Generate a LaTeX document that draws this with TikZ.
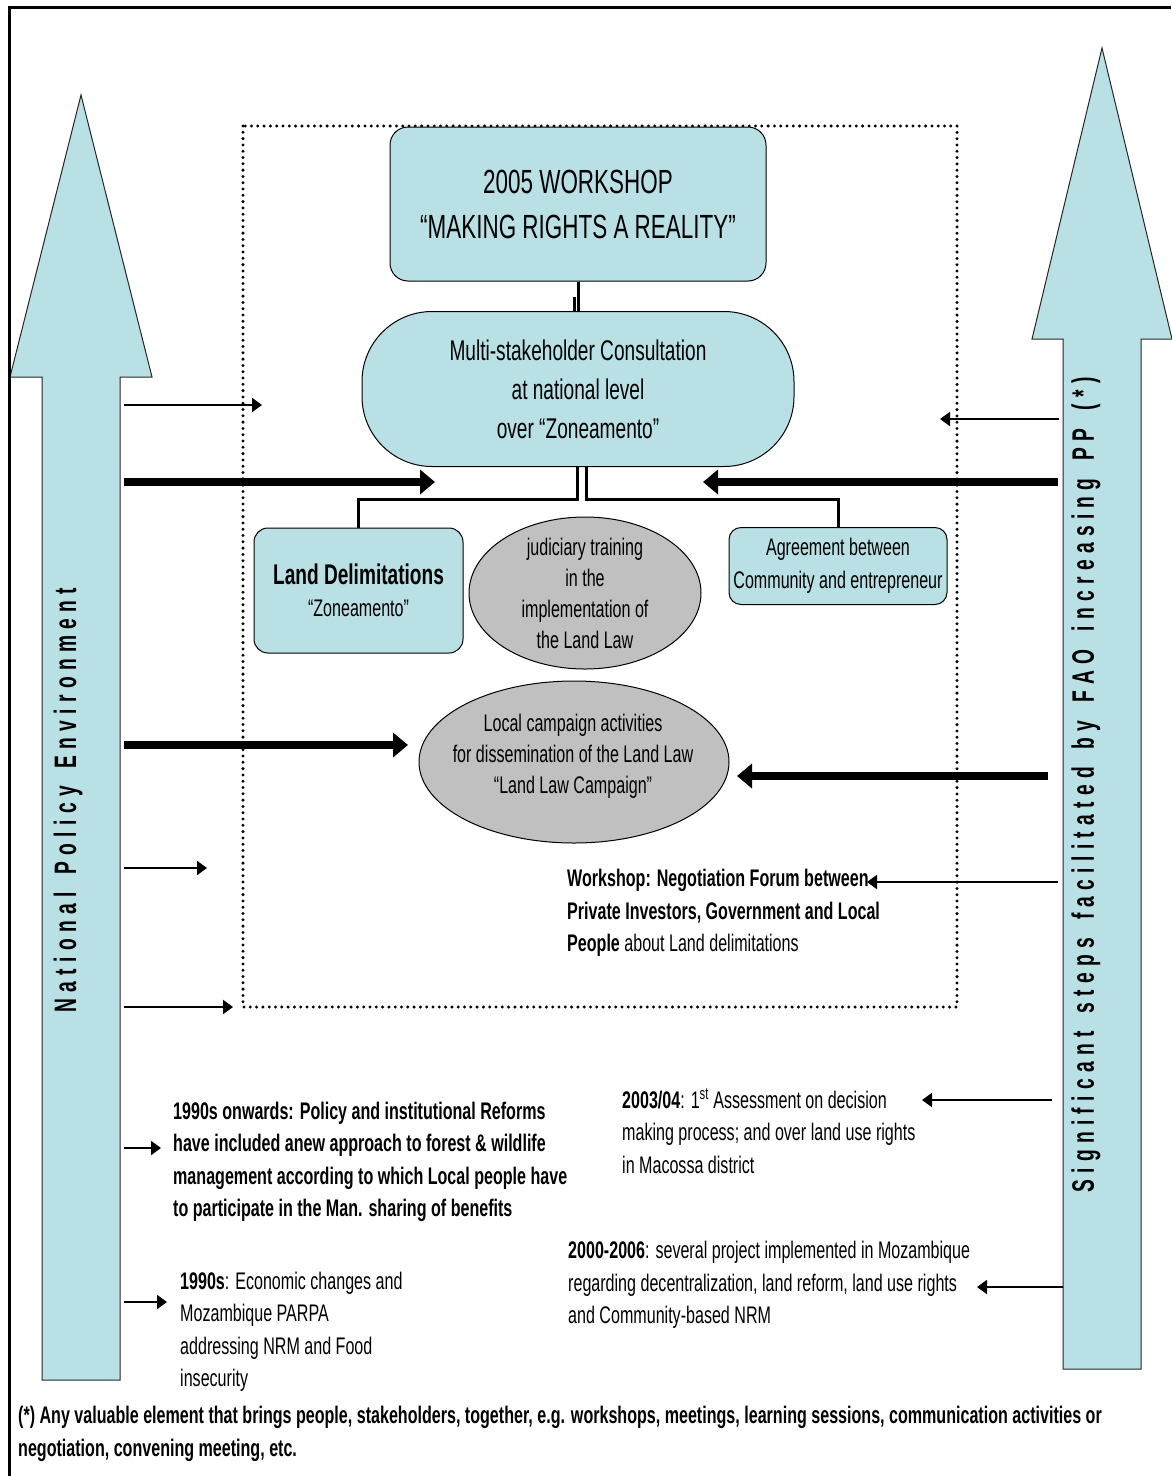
\documentclass[tikz,border=0pt]{standalone}
\usepackage{fontspec}
\setmainfont{Liberation Sans}[FakeStretch=0.67]
\newfontfamily\rotfont{Liberation Sans}[FakeStretch=0.62]
\usetikzlibrary{arrows.meta,shapes.geometric,calc}
\definecolor{paleblue}{RGB}{185,224,228}
\definecolor{ovalgray}{RGB}{192,192,192}
\newcommand\bodyfs{\fontsize{24}{32.5}\selectfont}
\newcommand\bigfs{\fontsize{28.5}{39}\selectfont}
\newcommand\titlefs{\fontsize{33.5}{45}\selectfont}
\newcommand\rotfs{\rotfont\fontsize{31}{36}\selectfont\bfseries}

\begin{document}
\begin{tikzpicture}[x=1pt,y=-1pt,
  bluebox/.style={draw=black, line width=1pt, fill=paleblue, align=center, inner sep=0pt},
  grayoval/.style={ellipse, draw=black, line width=1pt, fill=ovalgray, inner sep=0pt},
  ovaltext/.style={align=center, inner sep=0pt, font=\fontsize{24}{31}\selectfont},
  tree/.style={line width=3pt},
  thin arrow/.style={line width=2pt, -{Triangle[length=10pt,width=14pt]}},
  thick arrow/.style={line width=7.5pt, -{Triangle[length=15pt,width=24pt]}},
  note/.style={align=left, anchor=west, inner sep=0pt, font=\bodyfs},
  bigarrow/.style={draw=black!85, line width=1pt, fill=paleblue, line join=miter},
  dotbox/.style={line width=3.3pt, dash pattern=on 0pt off 6.3pt, line cap=round},
  sidelabel/.style={rotate=90, inner sep=0pt, font=\rotfs},
]
\useasboundingbox (0,0) rectangle (1171,1476);

% the two upward block arrows
\draw[bigarrow] (42,1380) -- (42,377) -- (10,377) -- (81,95) -- (152,377)
  -- (120,377) -- (120,1380) -- cycle;
\draw[bigarrow] (1063,1369) -- (1063,339) -- (1032,339) -- (1102,48) -- (1172,339)
  -- (1141,339) -- (1141,1369) -- cycle;

% outer frame
\draw[line width=2.5pt] (9.5,1476) -- (9.5,7.5) -- (1171,7.5);

% dotted frame round the central activities
\draw[dotbox] (243,126) rectangle (957,1007);

% labels inside the block arrows
\node[sidelabel] (natlabel) at (68,800)
  {\spaceskip=6.3pt\relax N a t i o n a l\hspace{18pt}P o l i c y\hspace{18pt}E n v i r o n m e n t};
\node[sidelabel] (faolabel) at (1086,785)
  {\spaceskip=6.3pt\relax S i g n i f i c a n t\hspace{18pt}s t e p s\hspace{18pt}f a c i l i t a t e d\hspace{18pt}b y\hspace{18pt}F A O\hspace{18pt}i n c r e a s i n g\hspace{18pt}P P\hspace{18pt}( * )};

% central boxes
\node[bluebox, rounded corners=18pt, minimum width=376pt, minimum height=154pt, font=\titlefs]
  (workshop) at (578,204) {2005 WORKSHOP\\“MAKING RIGHTS A REALITY”};
\node[bluebox, rounded corners=70pt, minimum width=432pt, minimum height=155pt, font=\bigfs]
  (multi) at (578,389) {Multi-stakeholder Consultation\\at national level\\over “Zoneamento”};
\node[bluebox, rounded corners=14pt, minimum width=209pt, minimum height=125pt, font=\bodyfs]
  (land) at (358.5,590.5) {{\bigfs\bfseries Land Delimitations}\\“Zoneamento”};
\node[bluebox, rounded corners=12pt, minimum width=218pt, minimum height=77pt, font=\bodyfs]
  (agree) at (838,566) {Agreement between\\Community and entrepreneur};
\node[grayoval, minimum width=232pt, minimum height=152pt] (judic) at (585,593) {};
\node[ovaltext] (judictext) at (judic) {judiciary training\\in the\\implementation of\\the Land Law};
\node[grayoval, minimum width=310pt, minimum height=162pt] (campaign) at (574,762) {};
\node[ovaltext] (campaigntext) at (573,756)
  {Local campaign activities\\for dissemination of the Land Law\\“Land Law Campaign”};

% tree connectors
\draw[tree] (workshop.south) -- (multi.north -| workshop.south);
\draw[tree] ([xshift=-4pt]multi.north -| workshop.south) -- ++(0,-14);
\draw[tree] ([xshift=-1pt]multi.south) |- ([yshift=28pt]land.north) -- (land.north);
\draw[tree] ([xshift=8pt]multi.south) |- ([yshift=28pt]agree.north) -- (agree.north);

% text notes
\node[note] (wsneg) at (567,913)
  {\textbf{Workshop: Negotiation Forum between}\\
   \textbf{Private Investors, Government and Local}\\
   \textbf{People} about Land delimitations};
\node[note] (reforms) at (173,1162)
  {\textbf{1990s onwards: Policy and institutional Reforms}\\
   \textbf{have included anew approach to forest \& wildlife}\\
   \textbf{management according to which Local people have}\\
   \textbf{to participate in the Man. sharing of benefits}};
\node[note] (assess) at (622,1131)
  {\textbf{2003/04}: 1\textsuperscript{st} Assessment on decision\\
   making process; and over land use rights\\
   in Macossa district};
\node[note] (projects) at (568,1285)
  {\textbf{2000-2006}: several project implemented in Mozambique\\
   regarding decentralization, land reform, land use rights\\
   and Community-based NRM};
\node[note] (econ) at (180,1332)
  {\textbf{1990s}: Economic changes and\\
   Mozambique PARPA\\
   addressing NRM and Food\\
   insecurity};
\node[note] (footnote) at (18,1434)
  {\textbf{(*) Any valuable element that brings people, stakeholders, together, e.g. workshops, meetings, learning sessions, communication activities or}\\
   \textbf{negotiation, convening meeting, etc.}};

% arrow end points
\coordinate (l1s) at (124,405);  \coordinate (l1e) at (262,405);
\coordinate (l2s) at (124,482);  \coordinate (l2e) at (435,482);
\coordinate (l3s) at (124,745);  \coordinate (l3e) at (408,745);
\coordinate (l4s) at (124,868);  \coordinate (l4e) at (207,868);
\coordinate (l5s) at (124,1007); \coordinate (l5e) at (233,1007);
\coordinate (l6s) at (124,1148); \coordinate (l6e) at (161,1148);
\coordinate (l7s) at (124,1302); \coordinate (l7e) at (167,1302);
\coordinate (r1s) at (1059,419); \coordinate (r1e) at (940,419);
\coordinate (r2s) at (1058,482); \coordinate (r2e) at (703,482);
\coordinate (r3s) at (1048,776); \coordinate (r3e) at (737,776);
\coordinate (r4s) at (1058,882); \coordinate (r4e) at (867,882);
\coordinate (r5s) at (1052,1100); \coordinate (r5e) at (922,1100);
\coordinate (r6s) at (1063,1287); \coordinate (r6e) at (977,1287);

% arrows from the national policy side
\draw[thin arrow] (l1s) -- (l1e);
\draw[thick arrow] (l2s) -- (l2e);
\draw[thick arrow] (l3s) -- (l3e);
\draw[thin arrow] (l4s) -- (l4e);
\draw[thin arrow] (l5s) -- (l5e);
\draw[thin arrow] (l6s) -- (l6e);
\draw[thin arrow] (l7s) -- (l7e);

% arrows from the FAO side
\draw[thin arrow] (r1s) -- (r1e);
\draw[thick arrow] (r2s) -- (r2e);
\draw[thick arrow] (r3s) -- (r3e);
\draw[thin arrow] (r4s) -- (r4e);
\draw[thin arrow] (r5s) -- (r5e);
\draw[thin arrow] (r6s) -- (r6e);
\end{tikzpicture}
\end{document}
